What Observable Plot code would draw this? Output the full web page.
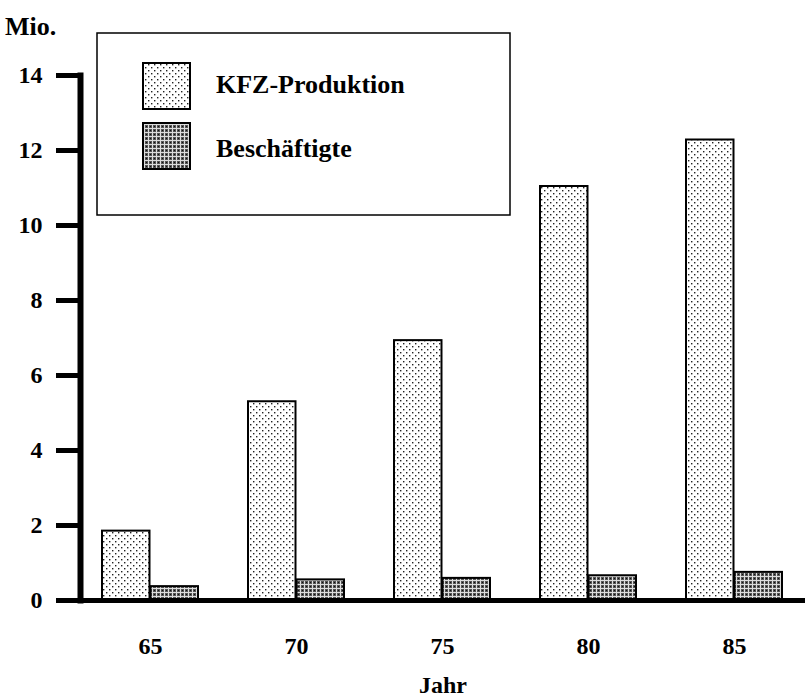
<!DOCTYPE html>
<html><head><meta charset="utf-8">
<script src="https://cdn.jsdelivr.net/npm/d3@7"></script>
<script src="https://cdn.jsdelivr.net/npm/@observablehq/plot@0.6"></script>
<style>body{margin:0;background:#fff} svg{display:block}</style>
</head><body><div id="chart"></div>
<script>
const years = ["65", "70", "75", "80", "85"];
const kfzProduktion = [1.85, 5.3, 6.93, 11.04, 12.28];
const beschaeftigte = [0.37, 0.55, 0.59, 0.66, 0.75];
const yTicks = [0, 2, 4, 6, 8, 10, 12, 14];
const seriesNames = ["KFZ-Produktion", "Beschäftigte"];
const yUnit = "Mio.";
const xTitle = "Jahr";

const rows = years.map((year, i) => ({year, kfz: kfzProduktion[i], besch: beschaeftigte[i]}));
const font = "'Liberation Serif', 'DejaVu Serif', serif";
const half = 48.5;

const chart = Plot.plot({
  width: 809, height: 696,
  marginLeft: 80, marginRight: 4, marginTop: 75, marginBottom: 96,
  style: {fontFamily: font, fontWeight: "bold", background: "white", color: "black", overflow: "visible"},
  x: {domain: years, paddingInner: 0.34, paddingOuter: 0.136},
  y: {domain: [0, 14]},
  marks: [
    Plot.barY(rows, {x: "year", y: "kfz", fill: "url(#patKfz)", stroke: "black", strokeWidth: 2, insetRight: half}),
    Plot.barY(rows, {x: "year", y: "besch", fill: "url(#patBesch)", stroke: "black", strokeWidth: 2, insetLeft: half}),
    Plot.axisY(yTicks, {tickSize: 24, tickPadding: 14, strokeWidth: 5, fontSize: 24, fontWeight: "bold", label: null}),
    Plot.axisX({tickSize: 0, tickPadding: 36, fontSize: 24, fontWeight: "bold", label: xTitle, labelAnchor: "center", labelOffset: 92}),
    Plot.frame({anchor: "left", strokeWidth: 6}),
    Plot.ruleY([0], {strokeWidth: 5})
  ]
});
document.getElementById("chart").append(chart);

const svg = d3.select(chart);
svg.selectAll("g[aria-label='x-axis label'] text").attr("font-size", 24);
const defs = svg.insert("defs", ":first-child");
const p1 = defs.append("pattern").attr("id", "patKfz").attr("patternUnits", "userSpaceOnUse").attr("width", 6).attr("height", 6);
p1.append("rect").attr("width", 6).attr("height", 6).attr("fill", "white");
p1.append("rect").attr("x", 1).attr("y", 1).attr("width", 1.4).attr("height", 1.4).attr("fill", "#222");
p1.append("rect").attr("x", 4).attr("y", 4).attr("width", 1.4).attr("height", 1.4).attr("fill", "#222");
const p2 = defs.append("pattern").attr("id", "patBesch").attr("patternUnits", "userSpaceOnUse").attr("width", 4).attr("height", 4);
p2.append("rect").attr("width", 4).attr("height", 4).attr("fill", "#555");
p2.append("rect").attr("x", 0).attr("y", 0).attr("width", 4).attr("height", 1).attr("fill", "#ddd");
p2.append("rect").attr("x", 0).attr("y", 0).attr("width", 1).attr("height", 4).attr("fill", "#ddd");
p2.append("rect").attr("x", 2).attr("y", 2).attr("width", 1).attr("height", 1).attr("fill", "#111");

// unit label
svg.append("text").attr("x", 5).attr("y", 35).attr("text-anchor", "start").attr("font-family", font).attr("font-weight", "bold")
  .attr("font-size", 26).attr("fill", "black").text(yUnit);

// legend
const lg = svg.append("g");
lg.append("rect").attr("x", 97).attr("y", 33).attr("width", 413).attr("height", 182)
  .attr("fill", "white").attr("stroke", "black").attr("stroke-width", 1.5);
const fills = ["url(#patKfz)", "url(#patBesch)"];
const rowsY = [63, 123];
const textY = [93, 157];
seriesNames.forEach((name, i) => {
  lg.append("rect").attr("x", 143).attr("y", rowsY[i]).attr("width", 47).attr("height", 46)
    .attr("fill", fills[i]).attr("stroke", "black").attr("stroke-width", 2);
  lg.append("text").attr("x", 216).attr("y", textY[i]).attr("text-anchor", "start").attr("font-family", font).attr("font-weight", "bold")
    .attr("font-size", 26).attr("fill", "black").text(name);
});
</script>
</body></html>
